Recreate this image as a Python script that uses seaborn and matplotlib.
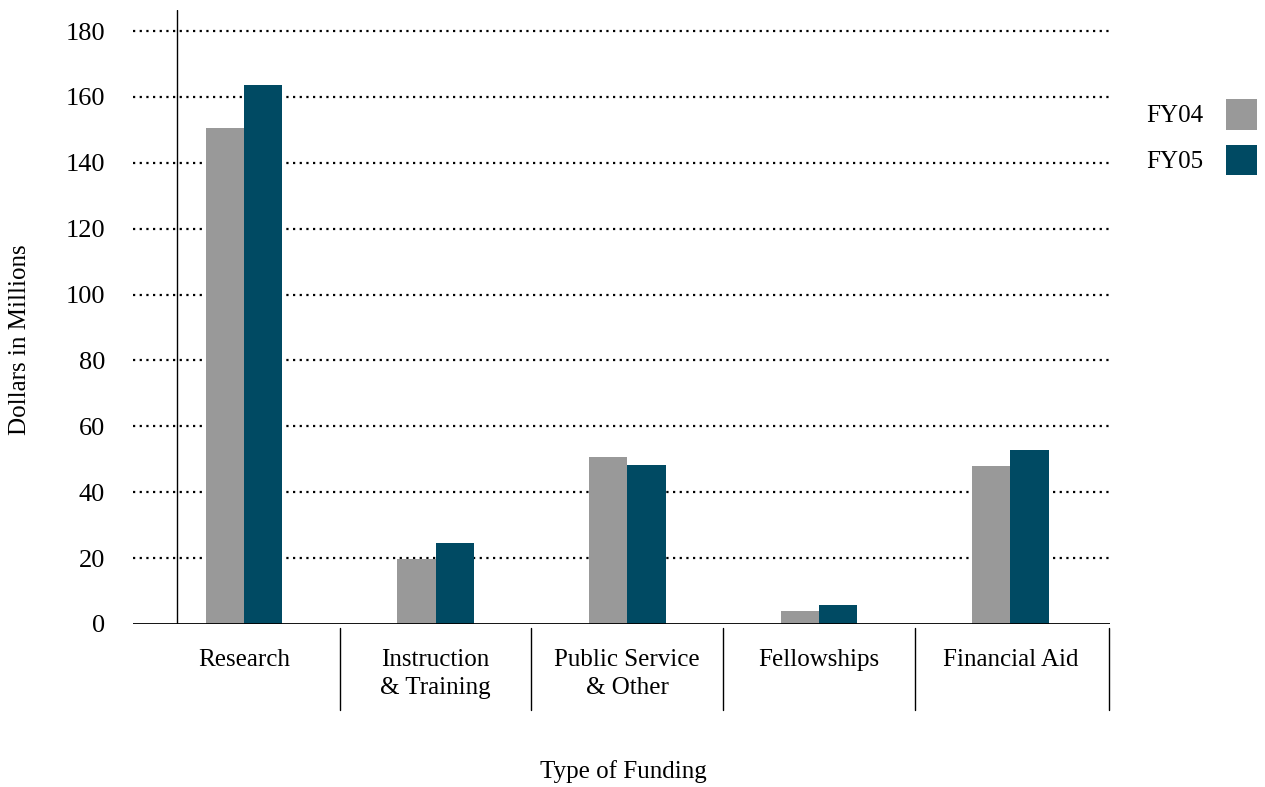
import seaborn as sns
import pandas as pd
import matplotlib.pyplot as plt
from matplotlib.patches import Patch
from matplotlib.transforms import blended_transform_factory

# funding by type, millions of dollars
categories = ['Research', 'Instruction\n& Training', 'Public Service\n& Other',
              'Fellowships', 'Financial Aid']
years = ['FY04', 'FY05']
fy04 = [150.5, 19.7, 50.7, 3.9, 48.0]
fy05 = [163.6, 24.6, 48.3, 5.8, 52.8]
yticks = [0, 20, 40, 60, 80, 100, 120, 140, 160, 180]
colors = ['#999999', '#004a63']

df = pd.DataFrame({
    'category': categories * 2,
    'year': [years[0]] * len(fy04) + [years[1]] * len(fy05),
    'value': fy04 + fy05,
})

sns.set_style('white')
plt.rcParams['font.family'] = ['Liberation Serif', 'DejaVu Serif']
plt.rcParams['text.color'] = 'black'
plt.rcParams['xtick.color'] = 'black'
plt.rcParams['ytick.color'] = 'black'

W, H = 1265, 787
fig = plt.figure(figsize=(W / 100, H / 100), dpi=100)
ax = fig.add_axes([133 / W, 1 - 624 / H, (1110 - 133) / W, 614 / H])

sns.barplot(data=df, x='category', y='value', hue='year', palette=colors,
            width=0.4, saturation=1, legend=False, ax=ax, zorder=3,
            linewidth=0, edgecolor='none')

ax.set_xlim(-0.58, 4.52)
ax.set_ylim(0, 186.4)
for s in ax.spines.values():
    s.set_visible(False)

# dotted gridlines
for y in yticks[1:]:
    ax.axhline(y, ls=(0, (1, 2)), color='black', lw=1.6, zorder=1)
ax.axhline(0, color='black', lw=1.3, zorder=4)
ax.axvline(-0.35, color='black', lw=1.0, zorder=4)

# category separators below the axis
trans = blended_transform_factory(ax.transData, ax.transAxes)
for i in range(len(categories)):
    xs = i + 0.5 if i < len(categories) - 1 else ax.get_xlim()[1] - 0.005
    ax.plot([xs, xs], [-0.0065, -0.14], transform=trans,
            color='black', lw=1.0, clip_on=False)

ax.set_yticks(yticks)
ax.tick_params(axis='y', length=0, pad=20, labelsize=19)
ax.tick_params(axis='x', length=0, pad=18, labelsize=18)
for lab in ax.get_xticklabels():
    lab.set_linespacing(1.35)
ax.set_xlabel('')
ax.set_ylabel('')

fig.text(20 / W, 1 - 340 / H, 'Dollars in Millions', rotation=90,
         ha='center', va='center', fontsize=18)
fig.text(623 / W, 1 - 772 / H, 'Type of Funding', ha='center', va='center',
         fontsize=18)

handles = [Patch(facecolor=c, edgecolor='none') for c in colors]
ax.legend(handles, years, loc='upper right', bbox_to_anchor=(1257 / W, 1 - 99 / H),
          bbox_transform=fig.transFigure, frameon=False, markerfirst=False,
          fontsize=18, handlelength=1.25, handleheight=1.5, labelspacing=0.6,
          handletextpad=0.9, borderpad=0, borderaxespad=0)

plt.savefig('out.png', dpi=100)
